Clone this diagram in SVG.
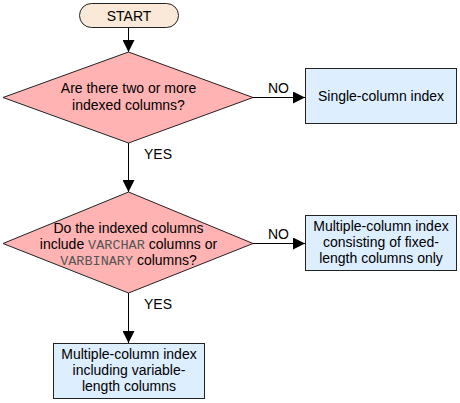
<svg xmlns="http://www.w3.org/2000/svg" width="460" height="403" viewBox="0 0 460 403">
<defs>
<style>
.t{font-family:"Liberation Sans",Arial,sans-serif;font-size:14px;fill:#000;text-anchor:middle}
.l{font-family:"Liberation Sans",Arial,sans-serif;font-size:14px;fill:#000}
.m{font-family:"Liberation Mono","Courier New",monospace;font-size:13.5px;fill:#555}
.d{fill:#ffb3b3;stroke:#222;stroke-width:1}
.b{fill:#ddeeff;stroke:#222;stroke-width:1}
.c{fill:none;stroke:#000;stroke-width:1}
</style>
<marker id="ah" viewBox="0 0 10 10" refX="10" refY="5" markerWidth="12" markerHeight="12" markerUnits="userSpaceOnUse" orient="auto">
<path d="M0,0 L10,5 L0,10 z" fill="#000"/>
</marker>
</defs>
<g id="connectors">
<line class="c" x1="128.5" y1="28" x2="128.5" y2="52" marker-end="url(#ah)"/>
<line class="c" x1="253" y1="97.5" x2="305" y2="97.5" marker-end="url(#ah)"/>
<line class="c" x1="128.5" y1="143" x2="128.5" y2="192" marker-end="url(#ah)"/>
<line class="c" x1="253" y1="243.5" x2="305" y2="243.5" marker-end="url(#ah)"/>
<line class="c" x1="128.5" y1="293" x2="128.5" y2="343" marker-end="url(#ah)"/>
<text class="l" x="268" y="93">NO</text>
<text class="l" x="144" y="159">YES</text>
<text class="l" x="268" y="239">NO</text>
<text class="l" x="144" y="309">YES</text>
</g>
<g id="start">
<rect x="79.5" y="3.5" width="99" height="24" rx="12" ry="12" fill="#fae8d8" stroke="#222"/>
<text class="t" x="129" y="20.5">START</text>
</g>
<g id="q1">
<polygon class="d" points="128.5,52 253,97.5 128.5,143 3,97.5"/>
<text class="t" x="128.5" y="93">Are there two or more</text>
<text class="t" x="128.5" y="110">indexed columns?</text>
</g>
<g id="single">
<rect class="b" x="305.5" y="68.5" width="151" height="55"/>
<text class="t" x="381" y="101">Single-column index</text>
</g>
<g id="q2">
<polygon class="d" points="128.5,192 253,243.5 128.5,293 3,243.5"/>
<text class="t" x="128.5" y="233">Do the indexed columns</text>
<text class="t" x="128.5" y="249">include <tspan class="m">VARCHAR</tspan> columns or</text>
<text class="t" x="128.5" y="265"><tspan class="m">VARBINARY</tspan> columns?</text>
</g>
<g id="fixed">
<rect class="b" x="305.5" y="215.5" width="151" height="55"/>
<text class="t" x="381" y="231">Multiple-column index</text>
<text class="t" x="381" y="247">consisting of fixed-</text>
<text class="t" x="381" y="263">length columns only</text>
</g>
<g id="variable">
<rect class="b" x="53.5" y="343.5" width="151" height="55"/>
<text class="t" x="129" y="359">Multiple-column index</text>
<text class="t" x="129" y="375">including variable-</text>
<text class="t" x="129" y="391">length columns</text>
</g>
</svg>
